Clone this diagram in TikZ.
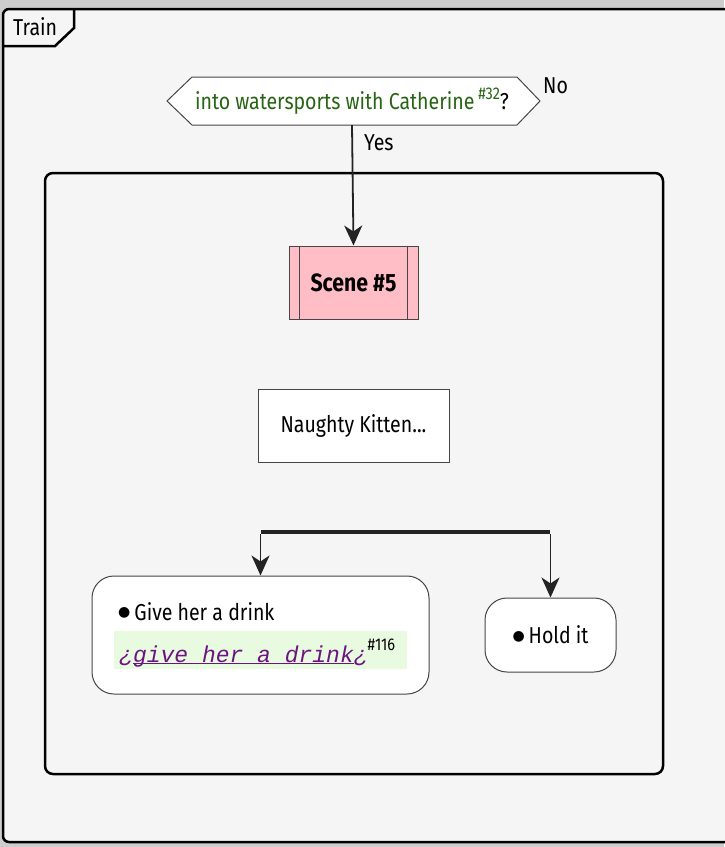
\documentclass[tikz,border=0pt]{standalone}
\usepackage{fontspec}
\setmainfont{Fira Sans}[FakeStretch=0.85]
\newfontfamily\codefont{Liberation Mono}
\newfontfamily\symfont{DejaVu Sans}
\usetikzlibrary{arrows.meta}
\newcommand\myuline[1]{\setbox0\hbox{#1}\rlap{\raisebox{-2pt}{\rule{\wd0}{1.2pt}}}\box0}
\newcommand\bul{\raisebox{3.5pt}{\symfont\fontsize{14}{14}\selectfont ●}}
\definecolor{bgout}{RGB}{205,205,205}
\definecolor{framebg}{RGB}{245,245,245}
\definecolor{scenepink}{RGB}{255,189,197}
\definecolor{hexgreen}{RGB}{40,100,20}
\definecolor{codegreen}{RGB}{232,250,224}
\definecolor{codepurple}{RGB}{110,20,130}
\definecolor{edgegray}{RGB}{35,35,35}
\definecolor{boxline}{RGB}{70,70,70}
\tikzset{
  arr/.style={draw=edgegray, line width=1.8pt, -{Stealth[length=20pt,width=18pt,inset=6pt]}},
  framebox/.style={draw=black, line width=2.5pt},
  plainbox/.style={draw=boxline, line width=1pt, fill=white, inner sep=0pt},
  txt/.style={inner sep=0pt, anchor=base west},
}
\begin{document}
\begin{tikzpicture}[x=1pt,y=-1pt, font=\fontsize{23}{27}\selectfont]
\fill[bgout] (0,0) rectangle (724,847);
\useasboundingbox (0,0) rectangle (724,847);
% outer frame
\draw[framebox, fill=framebg, rounded corners=6pt] (3,9) rectangle (740,842);
\draw[framebox] (3,46) -- (55,46) -- (74,28) -- (74,9);
\node[txt] (train) at (13,35) {Train};
% group
\node[framebox, rounded corners=8pt, minimum width=618pt, minimum height=601pt, inner sep=0pt] (grp) at (354,473.5) {};
% decision
\draw[boxline, line width=1pt, fill=white] (192,77) -- (517,77) -- (540,101) -- (517,125) -- (192,125) -- (167,101) -- cycle;
\node[inner sep=0pt, minimum width=325pt, minimum height=48pt] (hex) at (352,101)
  {{\color{hexgreen}into watersports with Catherine\,\raisebox{10pt}{\fontsize{17}{17}\selectfont\#32}}?};
\node[txt] (no) at (543,93) {No};
\node[txt] (yes) at (364,150) {Yes};
% scene
\node[plainbox, fill=scenepink, minimum width=129pt, minimum height=73pt, font=\fontsize{25}{28}\selectfont\bfseries] (scene) at (353.5,282.5) {Scene \#5};
\draw[boxline, line width=1pt] ([xshift=11pt]scene.north west) -- ([xshift=11pt]scene.south west);
\draw[boxline, line width=1pt] ([xshift=-11pt]scene.north east) -- ([xshift=-11pt]scene.south east);
\draw[arr] (hex.south) -- (scene.north);
% naughty
\node[plainbox, minimum width=191pt, minimum height=73pt] (naughty) at (353.5,425.5) {Naughty Kitten...};
% fork
\node[fill=edgegray, minimum width=289pt, minimum height=4pt, inner sep=0pt] (fork) at (405.5,532) {};
% give
\node[plainbox, rounded corners=22pt, minimum width=337pt, minimum height=118pt] (give) at (260.5,635) {};
\node[txt] (givetxt) at (118,620) {\bul\hspace{4pt}Give her a drink};
\node[fill=codegreen, minimum width=293pt, minimum height=38pt, inner sep=0pt] (coderect) at (260.5,650) {};
\node[txt] (code) at (119,662) {{\color{codepurple}\codefont\fontsize{23}{26}\selectfont\itshape ¿\myuline{give her a drink}¿}\raisebox{12pt}{\fontsize{17}{17}\selectfont\#116}};
% hold
\node[plainbox, rounded corners=22pt, minimum width=131pt, minimum height=74pt] (hold) at (550.5,635) {\bul\hspace{4pt}Hold it};
\draw[arr] (fork.south -| give.north) -- (give.north);
\draw[arr] (fork.south -| hold.north) -- (hold.north);
\end{tikzpicture}
\end{document}
